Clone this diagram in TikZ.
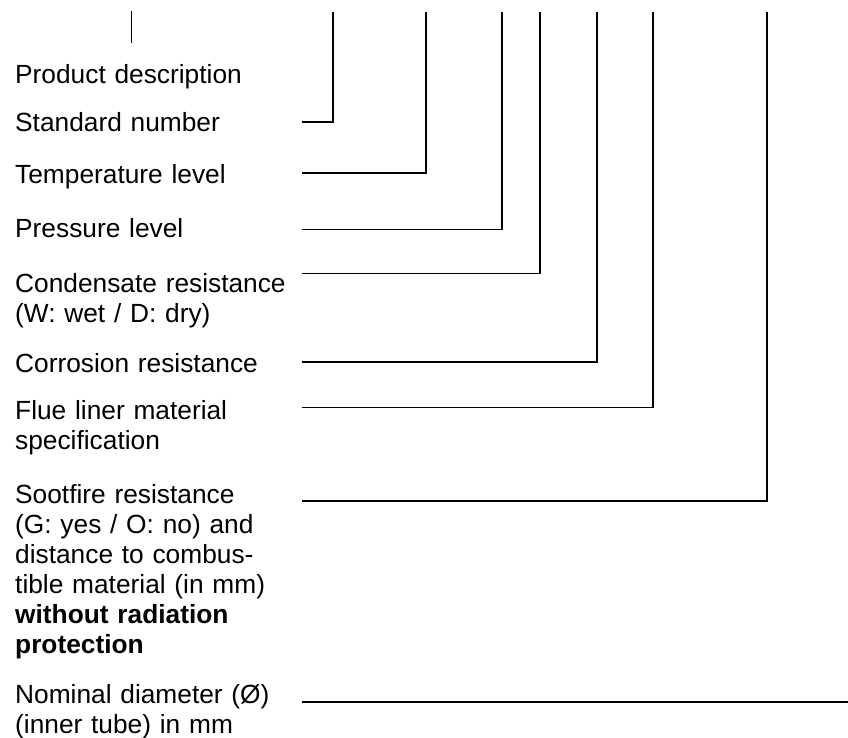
\documentclass[tikz,border=0pt]{standalone}
\usepackage{fontspec}
\setmainfont{Liberation Sans}
\begin{document}
\begin{tikzpicture}[x=1pt,y=-1pt,
  lbl/.style={anchor=base west,inner sep=0pt,text width=330pt,align=left,
    font=\fontsize{26.3}{30}\selectfont},
  lead/.style={line width=1.6pt,line join=miter},
  thin/.style={line width=0.9pt}]
\useasboundingbox (0,0) rectangle (848,738);
% labels
\node[lbl] (prod) at (15,84) {Product description};
\node[lbl] (std) at (15,132) {Standard number};
\node[lbl] (temp) at (15,184) {Temperature level};
\node[lbl] (pres) at (15,237) {Pressure level};
\node[lbl] (cond) at (15,292) {Condensate resistance\\(W: wet / D: dry)};
\node[lbl] (corr) at (15,372) {Corrosion resistance};
\node[lbl] (flue) at (15,419) {Flue liner material\\specification};
\node[lbl] (soot) at (15,503) {Sootfire resistance\\(G: yes / O: no) and\\distance to combus-\\tible material (in mm)\\\textbf{without radiation}\\\textbf{protection}};
\node[lbl] (nom) at (15,703) {Nominal diameter (Ø)\\(inner tube) in mm};
% connector ends
\coordinate (pa) at (131,11);
\coordinate (pb) at (131,43);
\coordinate (sa) at (302,122);   \coordinate (sb) at (333,12);
\coordinate (ta) at (302,173);   \coordinate (tb) at (426,12);
\coordinate (ra) at (302,229.5); \coordinate (rb) at (502,12);
\coordinate (ca) at (302,273.5); \coordinate (cb) at (540,12);
\coordinate (oa) at (302,362);   \coordinate (ob) at (597,12);
\coordinate (fa) at (302,407.5); \coordinate (fb) at (653,12);
\coordinate (ga) at (302,501);   \coordinate (gb) at (767,12);
\coordinate (na) at (302,702);   \coordinate (nb) at (848,702);
% connectors
\draw[thin] (pa) -- (pb);
\draw[lead] (sa) -| (sb);
\draw[lead] (ta) -| (tb);
\draw[lead] (ra) -| (rb);
\draw[lead] (ca) -| (cb);
\draw[lead] (oa) -| (ob);
\draw[lead] (fa) -| (fb);
\draw[lead] (ga) -| (gb);
\draw[lead] (na) -- (nb);
\end{tikzpicture}
\end{document}
